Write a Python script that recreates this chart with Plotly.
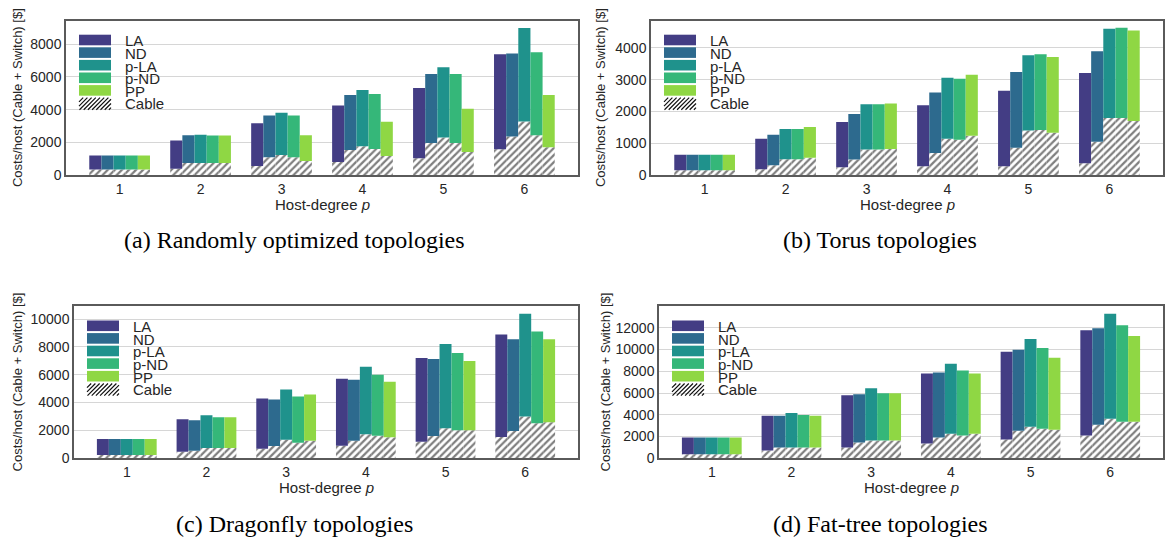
import plotly.graph_objects as go

# ---------------------------------------------------------------------------
# Data: cost per host (cable + switch) in $, by host-degree p
# Each table has one row per routing scheme (SERIES), one column per p.
# ---------------------------------------------------------------------------
GROUPS = [1, 2, 3, 4, 5, 6]
SERIES = ["LA", "ND", "p-LA", "p-ND", "PP"]
COLORS = ["#433d84", "#2d6a8e", "#1f928c", "#35b779", "#8fd744"]

RANDOM_TOTAL = [
    [1220, 2130, 3170, 4260, 5330, 7380],
    [1220, 2440, 3650, 4900, 6170, 7430],
    [1220, 2480, 3820, 5200, 6590, 8970],
    [1220, 2430, 3650, 4960, 6170, 7500],
    [1220, 2430, 2450, 3270, 4060, 4900],
]
RANDOM_CABLE = [
    [360, 400, 580, 820, 1040, 1590],
    [360, 760, 1100, 1550, 1970, 2370],
    [360, 760, 1250, 1770, 2310, 3280],
    [360, 760, 1100, 1610, 1970, 2450],
    [360, 760, 880, 1190, 1430, 1710],
]

TORUS_TOTAL = [
    [650, 1150, 1670, 2195, 2655, 3210],
    [650, 1270, 1920, 2595, 3240, 3890],
    [650, 1455, 2225, 3055, 3765, 4595],
    [650, 1455, 2225, 3025, 3795, 4625],
    [650, 1520, 2255, 3150, 3705, 4535],
]
TORUS_CABLE = [
    [160, 195, 255, 285, 285, 380],
    [160, 320, 500, 700, 870, 1055],
    [160, 505, 810, 1150, 1405, 1795],
    [160, 505, 810, 1120, 1425, 1795],
    [160, 555, 830, 1240, 1335, 1705],
]

DRAGONFLY_TOTAL = [
    [1375, 2800, 4290, 5710, 7200, 8890],
    [1375, 2725, 4220, 5640, 7135, 8540],
    [1375, 3080, 4930, 6565, 8200, 10380],
    [1375, 2940, 4430, 5995, 7560, 9100],
    [1375, 2940, 4575, 5500, 6990, 8540],
]
DRAGONFLY_CABLE = [
    [240, 475, 690, 900, 1185, 1520],
    [240, 545, 880, 1255, 1590, 1950],
    [240, 735, 1325, 1730, 2155, 3000],
    [240, 735, 1115, 1610, 2015, 2510],
    [240, 735, 1255, 1515, 2015, 2580],
]

FATTREE_TOTAL = [
    [1900, 3900, 5800, 7800, 9790, 11790],
    [1900, 3900, 5895, 7890, 9975, 11970],
    [1900, 4170, 6440, 8705, 10970, 13300],
    [1900, 3990, 5985, 8070, 10155, 12245],
    [1900, 3900, 5985, 7800, 9250, 11245],
]
FATTREE_CABLE = [
    [365, 725, 1000, 1360, 1725, 2085],
    [365, 1000, 1450, 1905, 2540, 3085],
    [365, 1000, 1630, 2265, 2900, 3625],
    [365, 1000, 1630, 2085, 2720, 3355],
    [365, 1000, 1630, 2265, 2630, 3355],
]

CAPTIONS = [
    "(a) Randomly optimized topologies",
    "(b) Torus topologies",
    "(c) Dragonfly topologies",
    "(d) Fat-tree topologies",
]

# ---------------------------------------------------------------------------
W, H = 1167, 552
SANS = "Liberation Sans, Arial, Helvetica, sans-serif"
SERIF = "Liberation Serif, Times New Roman, serif"
TEXT = "#262626"

# panel boxes in pixels: (left, right, top, bottom)
BOXES = [(66, 578, 21, 178), (651, 1163, 21, 178),
         (74, 578, 311, 465), (659, 1163, 311, 465)]
YMAX = [9420, 4845, 10900, 13965]
DTICK = [2000, 1000, 2000, 2000]
YTITLE_X = [17, 600, 17, 605]
CAPTION_POS = [(294, 244), (880, 244), (294, 532), (880, 532)]

PANELS = [
    (RANDOM_TOTAL, RANDOM_CABLE),
    (TORUS_TOTAL, TORUS_CABLE),
    (DRAGONFLY_TOTAL, DRAGONFLY_CABLE),
    (FATTREE_TOTAL, FATTREE_CABLE),
]

BAR_W = 0.15
# bars span 5 * BAR_W around each group; 5 % padding on both sides
_span = (GROUPS[-1] + 2.5 * BAR_W) - (GROUPS[0] - 2.5 * BAR_W)
XRANGE = [GROUPS[0] - 2.5 * BAR_W - 0.05 * _span, GROUPS[-1] + 2.5 * BAR_W + 0.05 * _span]
HATCH = dict(shape="/", fgcolor="#000000", bgcolor="white", size=5, solidity=0.45)

fig = go.Figure()
layout = dict(
    width=W, height=H,
    margin=dict(l=0, r=0, t=0, b=0),
    paper_bgcolor="white", plot_bgcolor="white",
    barmode="overlay", showlegend=False,
    font=dict(family=SANS, color=TEXT),
)
shapes, annotations = [], []

for k, ((totals, cables), (l, r, t, b)) in enumerate(zip(PANELS, BOXES), start=1):
    sfx = "" if k == 1 else str(k)
    xa, ya = "x" + sfx, "y" + sfx
    xname, yname = "xaxis" + sfx, "yaxis" + sfx

    for i, name in enumerate(SERIES):
        off = -2.5 * BAR_W + i * BAR_W
        cable = cables[i]
        switch = [tot - c for tot, c in zip(totals[i], cable)]
        fig.add_trace(go.Bar(
            x=GROUPS, y=cable, base=0, width=BAR_W, offset=off,
            marker=dict(color="white", line=dict(width=0), pattern=HATCH),
            xaxis=xa, yaxis=ya, name="Cable",
        ))
        fig.add_trace(go.Bar(
            x=GROUPS, y=switch, base=cable, width=BAR_W, offset=off,
            marker=dict(color=COLORS[i], line=dict(width=0)),
            xaxis=xa, yaxis=ya, name=name,
        ))

    layout[xname] = dict(
        domain=[l / W, r / W], anchor=ya, range=XRANGE,
        tickvals=GROUPS, ticktext=[str(g) for g in GROUPS],
        showgrid=False, zeroline=False, ticks="",
        showline=True, mirror=True, linecolor="#5a5a5a", linewidth=1.5,
        tickfont=dict(family=SANS, size=14, color=TEXT),
    )
    layout[yname] = dict(
        domain=[1 - b / H, 1 - t / H], anchor=xa, range=[0, YMAX[k - 1]],
        dtick=DTICK[k - 1], tick0=0, tickformat="d", showgrid=True,
        gridcolor="#d6d6d6", gridwidth=1.3, zeroline=False, ticks="",
        showline=True, mirror=True, linecolor="#5a5a5a", linewidth=1.5,
        tickfont=dict(family=SANS, size=14, color=TEXT),
    )

    # axis titles
    annotations.append(dict(
        text="Host-degree <i>p</i>", xref=f"{xa} domain", yref=f"{ya} domain",
        x=0.5, y=0, yanchor="top", xanchor="center", yshift=-19,
        showarrow=False, font=dict(family=SANS, size=15, color=TEXT),
    ))
    annotations.append(dict(
        text="Costs/host (Cable + Switch) [$]", textangle=-90,
        xref="paper", yref="paper", x=YTITLE_X[k - 1] / W,
        y=1 - (t + b) / 2 / H, xanchor="center", yanchor="middle",
        showarrow=False, font=dict(family=SANS, size=13, color=TEXT),
    ))

    # legend drawn inside the upper-left corner of each panel
    sw_x0, sw_x1 = 13, 45
    pitch, sh, top0 = 12.6, 10.6, 14
    labels = SERIES + ["Cable"]
    for rrow, lab in enumerate(labels):
        y1 = -(top0 + pitch * rrow)
        y0 = y1 - sh
        base = dict(xref=f"{xa} domain", yref=f"{ya} domain",
                    xsizemode="pixel", ysizemode="pixel", xanchor=0, yanchor=1)
        if rrow < len(SERIES):
            shapes.append(dict(type="rect", x0=sw_x0, x1=sw_x1, y0=y0, y1=y1,
                               fillcolor=COLORS[rrow], line=dict(width=0), **base))
        else:
            w, h = sw_x1 - sw_x0, sh + 1.5
            yb = y1 - h
            segs = []
            c = -h
            while c < w:
                ya0 = max(0.0, -c)
                ya1 = min(h, w - c)
                if ya1 > ya0:
                    segs.append(f"M{sw_x0 + c + ya0:.2f},{yb + ya0:.2f}"
                                f"L{sw_x0 + c + ya1:.2f},{yb + ya1:.2f}")
                c += 4.2
            shapes.append(dict(type="path", path="".join(segs),
                               line=dict(color="#111111", width=1.2), **base))
        annotations.append(dict(
            text=lab, xref=f"{xa} domain", yref=f"{ya} domain", x=0, y=1,
            xshift=57, yshift=(y0 + y1) / 2 - 1, xanchor="left", yanchor="middle",
            showarrow=False, font=dict(family=SANS, size=15, color=TEXT),
        ))

    cx, cy = CAPTION_POS[k - 1]
    annotations.append(dict(
        text=CAPTIONS[k - 1], xref="paper", yref="paper", x=cx / W, y=1 - cy / H,
        xanchor="center", yanchor="middle", showarrow=False,
        font=dict(family=SERIF, size=24, color="black"),
    ))

layout["shapes"] = shapes
layout["annotations"] = annotations
fig.update_layout(**layout)
fig.write_html("out.html")
